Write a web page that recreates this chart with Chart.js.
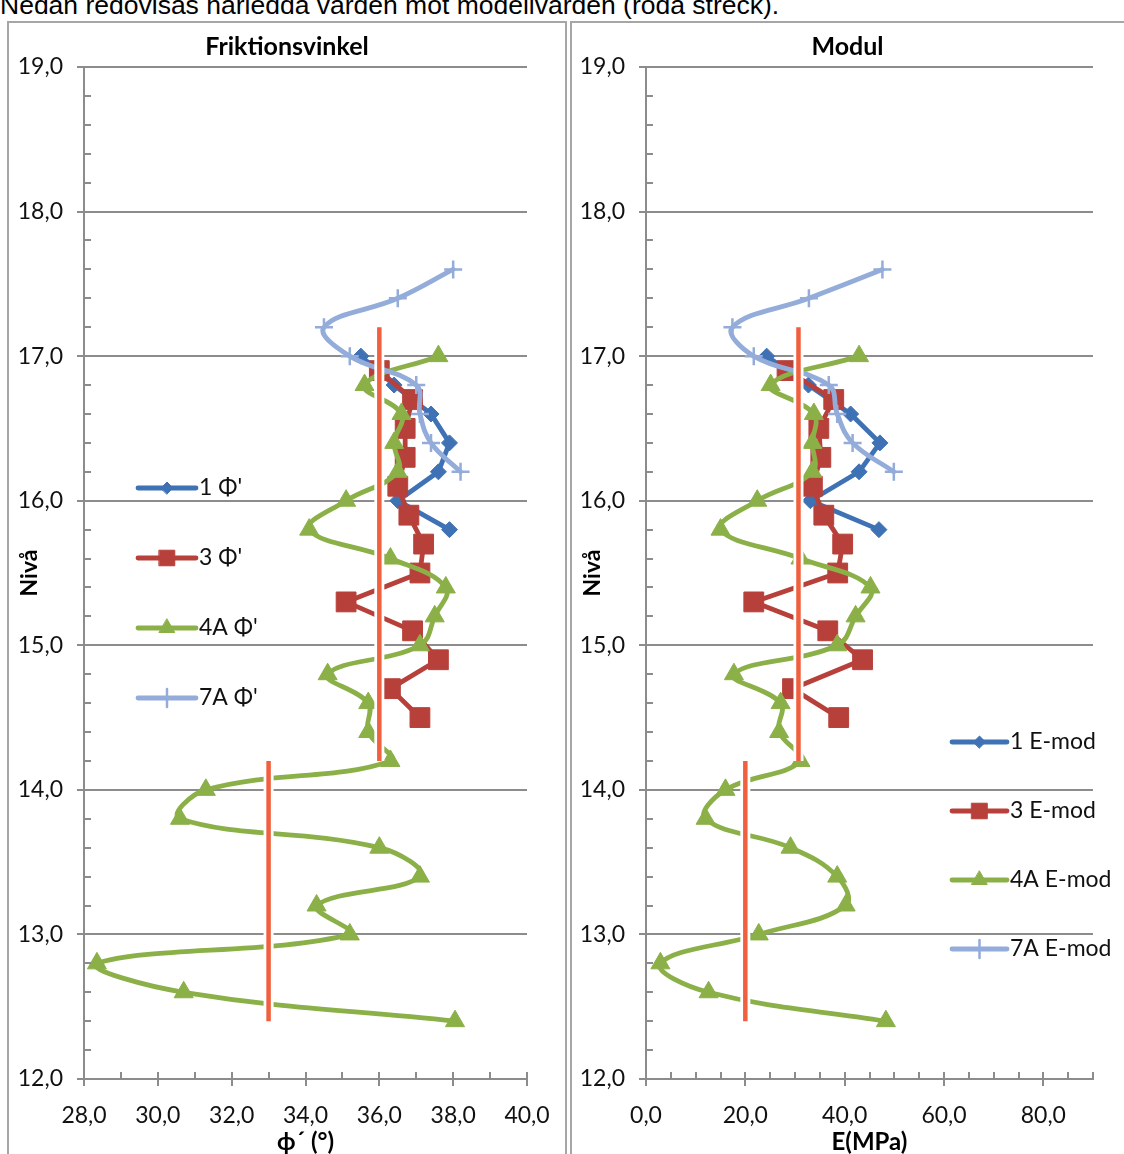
<!DOCTYPE html>
<html>
<head>
<meta charset="utf-8">
<script src="https://cdn.jsdelivr.net/npm/chart.js@4.4.1/dist/chart.umd.min.js"></script>
<style>
  html, body { margin: 0; padding: 0; background: #fff; overflow: hidden; }
  body { width: 1124px; height: 1154px; position: relative; }
  #note { position: absolute; left: 0; top: -8px; font: 26.5px "Liberation Sans", Arial, sans-serif; line-height: 26.5px; color: #000; white-space: nowrap; }
  .panel { position: absolute; top: 21px; height: 1160px; border: 2px solid #a6a6a6; box-sizing: border-box; }
  #leftBox { left: 7px; width: 560px; }
  #rightBox { left: 570px; width: 600px; }
  canvas { position: absolute; top: 21px; }
  #phiChart { left: 8px; }
  #emodChart { left: 571px; }
</style>
</head>
<body>
<div id="note">Nedan redovisas härledda värden mot modellvärden (röda streck).</div>
<div class="panel" id="leftBox"></div>
<div class="panel" id="rightBox"></div>
<canvas id="phiChart" width="558" height="1144"></canvas>
<canvas id="emodChart" width="553" height="1144"></canvas>
<script>
// values
const levels1 = [17.0, 16.8, 16.6, 16.4, 16.2, 16.0, 15.8];
const phi1 = [35.5, 36.4, 37.4, 37.9, 37.6, 36.5, 37.9];
const emod1 = [24.3, 32.7, 41.2, 47.1, 42.9, 33.1, 46.9];

const levels3 = [16.9, 16.7, 16.5, 16.3, 16.1, 15.9, 15.7, 15.5, 15.3, 15.1, 14.9, 14.7, 14.5];
const phi3 = [36.0, 36.9, 36.7, 36.7, 36.5, 36.8, 37.2, 37.1, 35.1, 36.9, 37.6, 36.3, 37.1];
const emod3 = [28.4, 37.8, 34.8, 35.2, 33.5, 35.8, 39.6, 38.6, 21.7, 36.6, 43.6, 29.5, 38.8];

const levels4A = [17.0, 16.8, 16.6, 16.4, 16.2, 16.0, 15.8, 15.6, 15.4, 15.2, 15.0, 14.8,
                  14.6, 14.4, 14.2, 14.0, 13.8, 13.6, 13.4, 13.2, 13.0, 12.8, 12.6, 12.4];
const phi4A = [37.6, 35.6, 36.6, 36.4, 36.5, 35.1, 34.1, 36.3, 37.8, 37.5, 37.1, 34.6,
               35.7, 35.7, 36.3, 31.3, 30.6, 36.0, 37.1, 34.3, 35.2, 28.35, 30.7, 38.05];
const emod4A = [42.9, 25.1, 33.8, 33.5, 33.5, 22.4, 15.0, 31.1, 45.2, 42.2, 38.5, 17.7,
                27.1, 26.8, 31.1, 16.0, 12.0, 29.1, 38.5, 40.2, 22.7, 2.9, 12.6, 48.3];

const levels7A = [17.6, 17.4, 17.2, 17.0, 16.8, 16.6, 16.4, 16.2];
const phi7A = [38.0, 36.5, 34.5, 35.2, 37.0, 37.1, 37.4, 38.2];
const emod7A = [47.6, 32.8, 17.4, 21.7, 36.8, 38.5, 41.6, 49.9];

// model values (red lines): one vertical segment per layer
const modelTop = [17.2, 14.2];
const modelBottom = [14.2, 12.4];
const modelPhi = [36.0, 33.0];
const modelE = [30.7, 20.0];

const levelTicks = [12, 13, 14, 15, 16, 17, 18, 19];
const phiTicks = [28, 30, 32, 34, 36, 38, 40];
const emodTicks = [0, 20, 40, 60, 80];

const BLUE = '#3f72b5', RED = '#b8403b', GREEN = '#8bb048', LIGHT = '#93acd9', MODEL = '#f0603f';
const AXIS = '#8c8c8c';
const FONT = 'Lato, "Open Sans", sans-serif';

function pts(xs, ys) {
  return xs.map((x, i) => ({ x: x, y: ys[i] }));
}

function series(label, xs, ys, color, style, radius, legendRadius, smooth, order) {
  return {
    label: label,
    data: pts(xs, ys),
    showLine: true,
    borderColor: color,
    backgroundColor: color,
    borderWidth: 4.8,
    borderCapStyle: 'round',
    borderJoinStyle: 'round',
    pointStyle: style,
    pointRadius: radius,
    pointHoverRadius: radius,
    pointBackgroundColor: color,
    pointBorderColor: color,
    pointBorderWidth: style === 'cross' ? 2.5 : 1,
    tension: smooth ? 0.4 : 0,
    order: order,
    inLegend: true,
    legendRadius: legendRadius
  };
}

function modelLines(values) {
  const out = [];
  values.forEach((v, i) => {
    const seg = [{ x: v, y: modelTop[i] }, { x: v, y: modelBottom[i] }];
    out.push({ data: seg, showLine: true, borderColor: MODEL, borderWidth: 4.5, pointRadius: 0, order: 0 });
    out.push({ data: seg, showLine: true, borderColor: '#ffffff', borderWidth: 10, pointRadius: 0, order: 1 });
  });
  return out;
}

const fmt = v => Number(v).toFixed(1).replace('.', ',');

// Excel style tick marks that cross the axis lines
const crossTicks = {
  id: 'crossTicks',
  afterDatasetsDraw(chart, args, opts) {
    const { ctx, chartArea: a, scales: { x, y } } = chart;
    ctx.save();
    ctx.strokeStyle = AXIS;
    ctx.lineWidth = 2;
    ctx.beginPath();
    const nx = Math.round((x.max - x.min) / opts.xStep);
    for (let i = 0; i <= nx; i++) {
      const v = x.min + i * opts.xStep;
      const px = Math.round(x.getPixelForValue(v));
      const major = opts.xMajor.some(t => Math.abs(t - v) < 1e-6);
      ctx.moveTo(px, a.bottom - 7);
      ctx.lineTo(px, a.bottom + (major ? 7 : 0));
    }
    const ny = Math.round((y.max - y.min) / opts.yStep);
    for (let i = 0; i <= ny; i++) {
      const v = y.min + i * opts.yStep;
      const py = Math.round(y.getPixelForValue(v));
      const major = levelTicks.some(t => Math.abs(t - v) < 1e-6);
      ctx.moveTo(a.left - (major ? 7 : 0), py);
      ctx.lineTo(a.left + 7, py);
    }
    ctx.stroke();
    ctx.restore();
  }
};

// legend placed freely inside the plot like the original
const sideLegend = {
  id: 'sideLegend',
  afterDraw(chart, args, opts) {
    const ctx = chart.ctx;
    const items = chart.data.datasets.filter(d => d.inLegend);
    items.forEach((ds, i) => {
      const y = opts.top + i * opts.gap;
      ctx.save();
      ctx.strokeStyle = ds.borderColor;
      ctx.lineWidth = ds.borderWidth;
      ctx.lineCap = 'round';
      ctx.beginPath();
      ctx.moveTo(opts.left, y);
      ctx.lineTo(opts.left + opts.lineLen, y);
      ctx.stroke();
      ctx.fillStyle = ds.pointBackgroundColor;
      ctx.strokeStyle = ds.pointBorderColor;
      ctx.lineWidth = ds.pointBorderWidth;
      if (Chart.helpers && Chart.helpers.drawPoint) {
        Chart.helpers.drawPoint(ctx, {
          pointStyle: ds.pointStyle, radius: ds.legendRadius,
          borderWidth: ds.pointBorderWidth, rotation: 0
        }, opts.left + opts.lineLen / 2, y);
      }
      ctx.fillStyle = '#111';
      ctx.font = '23px ' + FONT;
      ctx.textBaseline = 'middle';
      ctx.textAlign = 'left';
      ctx.fillText(ds.label, opts.left + opts.lineLen + 3, y);
      ctx.restore();
    });
  }
};

function makePanel(id, title, xTitle, xMin, xMax, xTicks, xStep, yWidth, padRight, datasets, legend) {
  return new Chart(document.getElementById(id), {
    type: 'scatter',
    data: { datasets: datasets },
    plugins: [crossTicks, sideLegend],
    options: {
      responsive: false,
      animation: false,
      events: [],
      layout: { padding: 0 },
      plugins: {
        legend: { display: false },
        tooltip: { enabled: false },
        title: {
          display: true,
          text: title,
          color: '#000',
          font: { family: FONT, size: 25, weight: 'bold' },
          padding: { top: 11, bottom: 5 }
        },
        crossTicks: { xStep: xStep, xMajor: xTicks, yStep: 0.2 },
        sideLegend: legend
      },
      scales: {
        x: {
          type: 'linear',
          min: xMin,
          max: xMax,
          afterBuildTicks: s => { s.ticks = xTicks.map(v => ({ value: v })); },
          afterFit: s => { s.height = 86; s.paddingLeft = 0; s.paddingRight = 0; },
          grid: { display: true, drawOnChartArea: false, drawTicks: false },
          border: { display: true, color: AXIS, width: 2 },
          ticks: { callback: fmt, color: '#111', padding: 23, maxRotation: 0, font: { family: FONT, size: 23 } },
          title: {
            display: true, text: xTitle, color: '#000',
            font: { family: FONT, size: 24, weight: 'bold' },
            padding: { top: 0, bottom: 8 }
          }
        },
        y: {
          type: 'linear',
          min: 12,
          max: 19,
          afterBuildTicks: s => { s.ticks = levelTicks.map(v => ({ value: v })); },
          afterFit: s => { s.width = yWidth; },
          grid: { color: AXIS, lineWidth: 2, drawTicks: false },
          border: { display: true, color: AXIS, width: 2 },
          ticks: { callback: fmt, color: '#111', padding: 21, font: { family: FONT, size: 23 } },
          title: {
            display: true, text: 'Nivå', color: '#000',
            font: { family: FONT, size: 23, weight: 'bold' },
            padding: { top: 8, bottom: 0 }
          }
        },
        // empty box on the right so the plot stops where the original does
        spacer: {
          type: 'linear',
          position: 'right',
          display: true,
          grid: { display: false },
          border: { display: false },
          ticks: { display: false },
          afterFit: s => { s.width = padRight; }
        }
      }
    }
  });
}

makePanel('phiChart', 'Friktionsvinkel', 'ϕ´ (°)', 28, 40, phiTicks, 1, 76, 39,
  modelLines(modelPhi).concat([
    series("1 Φ'", phi1, levels1, BLUE, 'rectRot', 8, 6, false, 5),
    series("3 Φ'", phi3, levels3, RED, 'rect', 14, 11, false, 4),
    series("4A Φ'", phi4A, levels4A, GREEN, 'triangle', 11, 9, true, 3),
    series("7A Φ'", phi7A, levels7A, LIGHT, 'cross', 9, 9, true, 2)
  ]),
  { left: 130, lineLen: 58, top: 467, gap: 70 });

makePanel('emodChart', 'Modul', 'E(MPa)', 0, 90, emodTicks, 5, 75, 31,
  modelLines(modelE).concat([
    series('1 E-mod', emod1, levels1, BLUE, 'rectRot', 8, 6, false, 5),
    series('3 E-mod', emod3, levels3, RED, 'rect', 14, 11, false, 4),
    series('4A E-mod', emod4A, levels4A, GREEN, 'triangle', 11, 9, true, 3),
    series('7A E-mod', emod7A, levels7A, LIGHT, 'cross', 9, 9, true, 2)
  ]),
  { left: 381, lineLen: 55, top: 721, gap: 69 });
</script>
</body>
</html>
